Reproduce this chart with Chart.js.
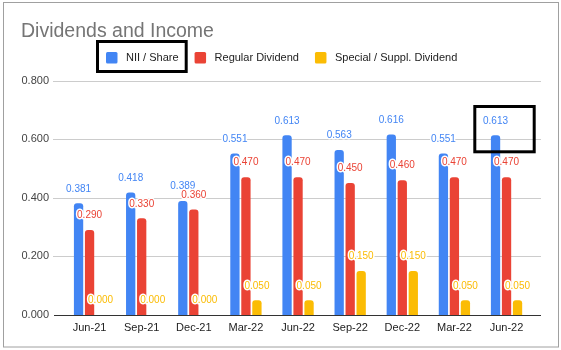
<!DOCTYPE html>
<html>
<head>
<meta charset="utf-8">
<script src="https://cdn.jsdelivr.net/npm/chart.js@4/dist/chart.umd.min.js"></script>
<style>
  html, body { margin: 0; padding: 0; background: #fff; }
  #wrap { position: relative; width: 561px; height: 350px; }
</style>
</head>
<body>
<div id="wrap"><canvas id="c" width="561" height="350"></canvas></div>
<script>
const chartTitle = "Dividends and Income";
const categories = ["Jun-21", "Sep-21", "Dec-21", "Mar-22", "Jun-22", "Sep-22", "Dec-22", "Mar-22", "Jun-22"];
const niiPerShare = [0.381, 0.418, 0.389, 0.551, 0.613, 0.563, 0.616, 0.551, 0.613];
const regularDividend = [0.290, 0.330, 0.360, 0.470, 0.470, 0.450, 0.460, 0.470, 0.470];
const specialDividend = [0.000, 0.000, 0.000, 0.050, 0.050, 0.150, 0.150, 0.050, 0.050];
const seriesNames = ["NII / Share", "Regular Dividend", "Special / Suppl. Dividend"];
const yTicks = [0, 0.2, 0.4, 0.6, 0.8];

const COLORS = ["#4285F4", "#EA4335", "#FBBC04"];
const FONT = "'Liberation Sans', Arial, sans-serif";

const decorPlugin = {
  id: 'decor',
  beforeDraw(chart) {
    const ctx = chart.ctx;
    ctx.save();
    ctx.fillStyle = '#ffffff';
    ctx.fillRect(0, 0, chart.width, chart.height);
    ctx.restore();
  },
  beforeDatasetsDraw(chart) {
    const ctx = chart.ctx;
    const y = chart.scales.y;
    ctx.save();
    yTicks.forEach(v => {
      const py = Math.round(y.getPixelForValue(v)) + 0.5;
      ctx.beginPath();
      if (v === 0) { ctx.strokeStyle = '#333333'; ctx.moveTo(54, py); }
      else { ctx.strokeStyle = '#cccccc'; ctx.moveTo(53, py); }
      ctx.lineTo(541, py);
      ctx.lineWidth = 1;
      ctx.stroke();
    });
    ctx.restore();
  },
  afterDatasetsDraw(chart) {
    const ctx = chart.ctx;
    ctx.save();
    ctx.font = "10px " + FONT;
    ctx.textAlign = 'center';
    ctx.textBaseline = 'middle';
    ctx.lineJoin = 'round';
    chart.data.datasets.forEach((ds, di) => {
      const meta = chart.getDatasetMeta(di);
      meta.data.forEach((el, i) => {
        const txt = ds.data[i].toFixed(3);
        const tx = el.x, ty = el.y - 14.5;
        ctx.strokeStyle = '#ffffff';
        ctx.lineWidth = 3;
        ctx.strokeText(txt, tx, ty);
        ctx.fillStyle = COLORS[di];
        ctx.fillText(txt, tx, ty);
      });
    });
    ctx.restore();
  },
  afterDraw(chart) {
    const ctx = chart.ctx;
    ctx.save();
    ctx.font = "19.5px " + FONT;
    ctx.fillStyle = '#757575';
    ctx.textAlign = 'left';
    ctx.textBaseline = 'alphabetic';
    ctx.fillText(chartTitle, 21, 36.5);
    ctx.font = "11px " + FONT;
    ctx.textBaseline = 'middle';
    let x = 106;
    const cy = 57.5;
    seriesNames.forEach((name, i) => {
      ctx.fillStyle = COLORS[i];
      ctx.beginPath();
      if (ctx.roundRect) ctx.roundRect(x, cy - 5.5, 11.5, 11.5, 1.5); else ctx.rect(x, cy - 5.5, 11.5, 11.5);
      ctx.fill();
      ctx.fillStyle = '#222222';
      ctx.fillText(name, x + 20, cy);
      x = x + 20 + ctx.measureText(name).width + 16;
    });
    ctx.strokeStyle = '#000000';
    ctx.lineWidth = 3;
    ctx.strokeRect(97.5, 41.5, 88.7, 30);
    ctx.strokeRect(474.8, 106.5, 59.4, 45.3);
    ctx.strokeStyle = '#a0a0a0';
    ctx.lineWidth = 1;
    ctx.strokeRect(3.5, 2.5, 555, 344.5);
    ctx.restore();
  }
};

const datasets = [niiPerShare, regularDividend, specialDividend].map((d, i) => ({
  label: seriesNames[i],
  data: d,
  backgroundColor: COLORS[i],
  borderWidth: 0,
  borderRadius: { topLeft: 3, topRight: 3, bottomLeft: 0, bottomRight: 0 },
  borderSkipped: 'start',
  categoryPercentage: 0.633,
  barPercentage: 0.845
}));

new Chart(document.getElementById('c'), {
  type: 'bar',
  data: { labels: categories, datasets },
  options: {
    responsive: false,
    animation: false,
    devicePixelRatio: 1,
    layout: { padding: { left: 0, top: 80.5, right: 28.4, bottom: 0 } },
    plugins: { legend: { display: false }, title: { display: false }, tooltip: { enabled: false } },
    scales: {
      x: {
        grid: { display: false, drawTicks: false },
        border: { display: false },
        ticks: { color: '#222222', font: { family: FONT, size: 11 }, padding: 6, maxRotation: 0, autoSkip: false },
        afterFit(s) { s.height = 35; }
      },
      y: {
        min: 0, max: 0.8,
        afterBuildTicks(s) { s.ticks = yTicks.map(v => ({ value: v })); },
        grid: { display: false, drawTicks: false },
        border: { display: false },
        ticks: { color: '#444444', font: { family: FONT, size: 11 }, padding: 14.5, callback: v => Number(v).toFixed(3) },
        afterFit(s) { s.width = 63.5; }
      }
    }
  },
  plugins: [decorPlugin]
});
</script>
</body>
</html>
